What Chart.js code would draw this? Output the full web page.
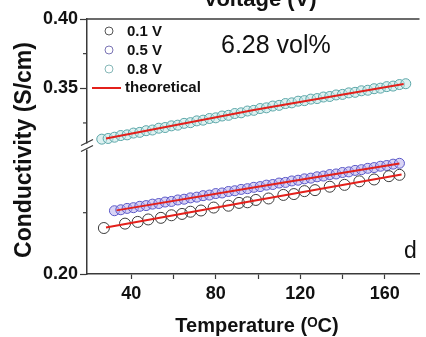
<!DOCTYPE html>
<html>
<head>
<meta charset="utf-8">
<script src="https://cdn.jsdelivr.net/npm/chart.js@4.4.1/dist/chart.umd.min.js"></script>
<style>
  html, body { margin: 0; padding: 0; background: #fff; }
  #wrap { width: 426px; height: 337px; }
</style>
</head>
<body>
<div id="wrap"><canvas id="condChart" width="426" height="337"></canvas></div>
<script>
// Temperature (°C) / conductivity (S/cm)
const temps01 = [27, 37, 43, 48, 54, 59, 64, 68, 73, 79, 86, 91, 95, 99, 105, 112, 117, 122, 127, 134, 141, 148, 155, 162, 167];
const cond01 = [0.2375, 0.2411, 0.2425, 0.2445, 0.2458, 0.2479, 0.2490, 0.2508, 0.2518, 0.2542, 0.2557, 0.2580, 0.2585, 0.2604, 0.2616, 0.2645, 0.2652, 0.2676, 0.2684, 0.2712, 0.2727, 0.2756, 0.2771, 0.2798, 0.2809];

const temps05 = [32, 35, 38, 41, 44, 47, 50, 53, 56, 59, 62, 65, 68, 71, 74, 77, 80, 83, 86, 89, 92, 95, 98, 101, 104, 107, 110, 113, 116, 119, 122, 125, 128, 131, 134, 137, 140, 143, 146, 149, 152, 155, 158, 161, 164, 167];
const cond05 = [0.2516, 0.2524, 0.2535, 0.2541, 0.2552, 0.2558, 0.2570, 0.2575, 0.2587, 0.2592, 0.2604, 0.2610, 0.2621, 0.2627, 0.2639, 0.2644, 0.2656, 0.2661, 0.2673, 0.2679, 0.2690, 0.2696, 0.2707, 0.2713, 0.2725, 0.2730, 0.2742, 0.2747, 0.2759, 0.2765, 0.2776, 0.2782, 0.2793, 0.2799, 0.2811, 0.2816, 0.2828, 0.2833, 0.2845, 0.2851, 0.2862, 0.2868, 0.2879, 0.2885, 0.2896, 0.2903];

const temps08 = [26, 29, 32, 35, 38, 41, 44, 47, 50, 53, 56, 59, 62, 65, 68, 71, 74, 77, 80, 83, 86, 89, 92, 95, 98, 101, 104, 107, 110, 113, 116, 119, 122, 125, 128, 131, 134, 137, 140, 143, 146, 149, 152, 155, 158, 161, 164, 167, 170];
const cond08 = [0.3133, 0.3138, 0.3147, 0.3159, 0.3164, 0.3177, 0.3182, 0.3194, 0.3199, 0.3212, 0.3217, 0.3229, 0.3234, 0.3247, 0.3252, 0.3265, 0.3270, 0.3282, 0.3287, 0.3300, 0.3305, 0.3318, 0.3323, 0.3336, 0.3341, 0.3354, 0.3359, 0.3372, 0.3377, 0.3390, 0.3395, 0.3407, 0.3411, 0.3422, 0.3426, 0.3437, 0.3441, 0.3452, 0.3456, 0.3467, 0.3471, 0.3482, 0.3486, 0.3497, 0.3501, 0.3512, 0.3516, 0.3527, 0.3533];

// theoretical curves (red)
const theoTemps01 = [28, 98, 168];
const theoCond01 = [0.2379, 0.2598, 0.2812];
const theoTemps05 = [33, 100, 167];
const theoCond05 = [0.2519, 0.2711, 0.2901];
const theoTemps08 = [28, 98, 169];
const theoCond08 = [0.3137, 0.3344, 0.3531];

const seriesLabels = ['0.1 V', '0.5 V', '0.8 V', 'theoretical'];

// axis ticks
const xTicks = [40, 60, 80, 100, 120, 140, 160];
const xLabelled = [40, 80, 120, 160];
const yTopTicks = [0.35, 0.40];
const yTopMinor = [0.325, 0.375];
const yLowTicks = [0.20];
const yLowMinor = [0.25];

const FONT = "'Liberation Sans', Arial, sans-serif";
const AXIS_COLOR = '#3a3a3a';

function pts(xs, ys) {
    return xs.map((x, i) => ({ x: x, y: ys[i] }));
}

// décor : cadre du haut, coupure d'axe, textes, légende
const decorPlugin = {
    id: 'decor',
    afterDraw(chart) {
        const ctx = chart.ctx;
        const area = chart.chartArea;
        const yTop = chart.scales.yTop;
        const yLow = chart.scales.yLow;
        ctx.save();

        // top frame line
        ctx.strokeStyle = AXIS_COLOR;
        ctx.lineWidth = 1.5;
        ctx.beginPath();
        ctx.moveTo(area.left, area.top);
        ctx.lineTo(area.right, area.top);
        ctx.stroke();

        // minor y ticks
        ctx.lineWidth = 1.2;
        yTopMinor.forEach(v => {
            const py = yTop.getPixelForValue(v);
            ctx.beginPath();
            ctx.moveTo(area.left - 4, py);
            ctx.lineTo(area.left, py);
            ctx.stroke();
        });
        yLowMinor.forEach(v => {
            const py = yLow.getPixelForValue(v);
            ctx.beginPath();
            ctx.moveTo(area.left - 4, py);
            ctx.lineTo(area.left, py);
            ctx.stroke();
        });

        // axis break
        const by = yTop.bottom;
        const bx = area.left;
        ctx.fillStyle = '#fff';
        ctx.fillRect(bx - 2, by - 3, 4, 6);
        ctx.strokeStyle = AXIS_COLOR;
        ctx.lineWidth = 1.3;
        ctx.beginPath();
        ctx.moveTo(bx - 6, by - 1);
        ctx.lineTo(bx + 6, by - 7);
        ctx.moveTo(bx - 6, by + 5);
        ctx.lineTo(bx + 6, by - 1);
        ctx.stroke();

        // textes
        ctx.fillStyle = '#111';
        ctx.textBaseline = 'alphabetic';
        ctx.font = 'bold 22px ' + FONT;
        ctx.textAlign = 'center';
        ctx.fillText('Voltage (V)', 260, 6);

        ctx.font = '25px ' + FONT;
        ctx.textAlign = 'left';
        ctx.fillText('6.28 vol%', 221, 53);

        ctx.font = '23px ' + FONT;
        ctx.fillText('d', 404, 258);

        ctx.font = 'bold 20px ' + FONT;
        ctx.textAlign = 'center';
        ctx.fillText('Temperature (\u1D3CC)', 257, 332);

        ctx.save();
        ctx.translate(31, 150);
        ctx.rotate(-Math.PI / 2);
        ctx.font = 'bold 23px ' + FONT;
        ctx.fillText('Conductivity (S/cm)', 0, 0);
        ctx.restore();

        // légende
        const ds = chart.data.datasets;
        const rows = [31, 50, 69];
        ctx.font = 'bold 15px ' + FONT;
        ctx.textAlign = 'left';
        ctx.textBaseline = 'middle';
        for (let i = 0; i < 3; i++) {
            ctx.beginPath();
            ctx.arc(109, rows[i], 4, 0, Math.PI * 2);
            ctx.strokeStyle = ds[i].legendColor;
            ctx.lineWidth = 1;
            ctx.stroke();
            ctx.fillStyle = '#111';
            ctx.fillText(seriesLabels[i], 127, rows[i] + 1);
        }
        ctx.strokeStyle = '#e3201b';
        ctx.lineWidth = 2;
        ctx.beginPath();
        ctx.moveTo(92, 88);
        ctx.lineTo(121, 88);
        ctx.stroke();
        ctx.fillText(seriesLabels[3], 125, 88);

        ctx.restore();
    }
};

const lineStyle = {
    showLine: true,
    borderColor: '#e3201b',
    borderWidth: 2,
    pointRadius: 0,
    fill: false,
    order: 0
};

const chart = new Chart(document.getElementById('condChart'), {
    type: 'scatter',
    data: {
        datasets: [{
            label: seriesLabels[0],
            data: pts(temps01, cond01),
            yAxisID: 'yLow',
            pointRadius: 5.5,
            pointBorderWidth: 1,
            borderColor: '#3c3c3c',
            backgroundColor: 'rgba(255,255,255,0)',
            legendColor: '#555',
            order: 1
        }, {
            label: seriesLabels[1],
            data: pts(temps05, cond05),
            yAxisID: 'yLow',
            pointRadius: 5,
            pointBorderWidth: 1,
            borderColor: '#5a58c8',
            backgroundColor: 'rgba(180,170,235,0.5)',
            legendColor: '#7a74b4',
            order: 1
        }, {
            label: seriesLabels[2],
            data: pts(temps08, cond08),
            yAxisID: 'yTop',
            pointRadius: 5,
            pointBorderWidth: 1,
            borderColor: '#5aa6a8',
            backgroundColor: 'rgba(195,230,230,0.55)',
            legendColor: '#86b8b8',
            order: 1
        },
        Object.assign({ label: seriesLabels[3], data: pts(theoTemps01, theoCond01), yAxisID: 'yLow' }, lineStyle),
        Object.assign({ label: seriesLabels[3], data: pts(theoTemps05, theoCond05), yAxisID: 'yLow' }, lineStyle),
        Object.assign({ label: seriesLabels[3], data: pts(theoTemps08, theoCond08), yAxisID: 'yTop' }, lineStyle)
        ]
    },
    options: {
        responsive: false,
        animation: false,
        layout: { padding: { top: 19, left: 0, right: 0, bottom: 0 } },
        plugins: {
            legend: { display: false },
            tooltip: { enabled: false }
        },
        scales: {
            x: {
                type: 'linear',
                min: 19,
                max: 176.5,
                afterBuildTicks: s => { s.ticks = xTicks.map(v => ({ value: v })); },
                afterFit: s => { s.height = 63; },
                grid: { drawOnChartArea: false, tickLength: 5, color: AXIS_COLOR, tickWidth: 1.2 },
                border: { display: true, color: AXIS_COLOR, width: 1.5 },
                ticks: {
                    padding: 4,
                    color: '#111',
                    font: { family: FONT, size: 18, weight: 'bold' },
                    callback: v => xLabelled.includes(v) ? String(v) : ''
                }
            },
            yLow: {
                type: 'linear',
                position: 'left',
                stack: 'cond',
                stackWeight: 1,
                min: 0.20,
                max: 0.304,
                afterBuildTicks: s => { s.ticks = yLowTicks.map(v => ({ value: v })); },
                afterFit: s => { s.width = 87; },
                grid: { drawOnChartArea: false, tickLength: 7, color: AXIS_COLOR, tickWidth: 1.2 },
                border: { display: true, color: AXIS_COLOR, width: 1.5 },
                ticks: {
                    padding: 2,
                    color: '#111',
                    font: { family: FONT, size: 18, weight: 'bold' },
                    callback: v => v.toFixed(2)
                }
            },
            yTop: {
                type: 'linear',
                position: 'left',
                stack: 'cond',
                stackWeight: 1,
                min: 0.308,
                max: 0.40,
                afterBuildTicks: s => { s.ticks = yTopTicks.map(v => ({ value: v })); },
                afterFit: s => { s.width = 87; },
                grid: { drawOnChartArea: false, tickLength: 7, color: AXIS_COLOR, tickWidth: 1.2 },
                border: { display: true, color: AXIS_COLOR, width: 1.5 },
                ticks: {
                    padding: 2,
                    color: '#111',
                    font: { family: FONT, size: 18, weight: 'bold' },
                    callback: v => v.toFixed(2)
                }
            }
        }
    },
    plugins: [decorPlugin]
});
</script>
</body>
</html>
